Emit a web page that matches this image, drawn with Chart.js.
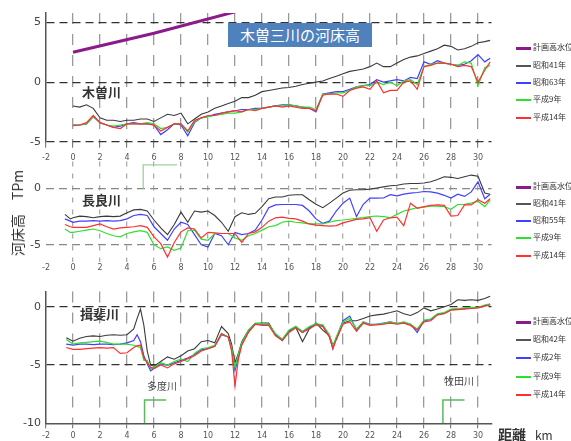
<!DOCTYPE html>
<html><head><meta charset="utf-8">
<script src="https://cdn.jsdelivr.net/npm/chart.js@4.4.0/dist/chart.umd.min.js"></script>
<style>
body{margin:0;width:571px;height:441px;background:#fff;position:relative;overflow:hidden;font-family:"Noto Sans CJK JP","Noto Sans",sans-serif}
canvas{position:absolute;left:0}
.t{position:absolute;white-space:nowrap;line-height:1}
</style></head><body>
<canvas id="c1" width="571" height="170" style="top:0px"></canvas>
<canvas id="c2" width="571" height="130" style="top:150px"></canvas>
<canvas id="c3" width="571" height="161" style="top:280px"></canvas>
<div class="t" style="left:228px;top:23px;width:144px;height:24px;line-height:24px;background:#4f81bd;color:#fff;font-size:15px;text-align:center">木曽三川の河床高</div>
<div class="t" style="left:82px;top:85px;font-size:13px;font-weight:bold;color:#333">木曽川</div>
<div class="t" style="left:82px;top:193px;font-size:13px;font-weight:bold;color:#333">長良川</div>
<div class="t" style="left:80px;top:307px;font-size:13px;font-weight:bold;color:#333">揖斐川</div>
<div class="t" style="left:147px;top:381px;font-size:10px;color:#444">多度川</div>
<div class="t" style="left:444px;top:376px;font-size:10px;color:#444">牧田川</div>
<div class="t" style="left:17px;top:213px;transform:translate(-50%,-50%) rotate(-90deg);font-size:14px;color:#333">河床高　TPm</div>
<div class="t" style="left:498px;top:427px;font-size:14px;font-weight:bold;color:#333">距離</div>
<div class="t" style="left:535px;top:429px;font-size:12px;color:#333">km</div>
<div id="leg"></div>
<script>
// ---- data ----
const xTicks = [-2,0,2,4,6,8,10,12,14,16,18,20,22,24,26,28,30];
const kisoYTicks = [5,0,-5];
const nagaraYTicks = [0,-5];
const ibiYTicks = [0,-5,-10];

const kisoNames = ['計画高水位','昭和41年','昭和63年','平成9年','平成14年'];
const nagaraNames = ['計画高水位','昭和41年','昭和55年','平成9年','平成14年'];
const ibiNames = ['計画高水位','昭和42年','平成2年','平成9年','平成14年'];

// 木曽川
const kisoPlanKm = [0,6,12,16];
const kisoPlan = [2.5,4.1,5.9,7.0];
const kisoKm = [0,0.5,1,1.5,2,2.5,3,3.5,4,4.5,5,5.5,6,6.5,7,7.5,8,8.5,9,9.5,10,10.5,11,11.5,12,12.5,13,13.5,14,14.5,15,15.5,16,16.5,17,17.5,18,18.5,19,19.5,20,20.5,21,21.5,22,22.5,23,23.5,24,24.5,25,25.5,26,26.5,27,27.5,28,28.5,29,29.5,30,30.5,30.9];
const kisoS41 = [-2.0,-2.1,-1.9,-2.2,-3.0,-3.2,-3.2,-3.3,-3.2,-3.2,
 -3.1,-3.1,-3.3,-3.0,-2.7,-2.8,-2.6,-3.5,-3.1,-2.7,
 -2.5,-2.2,-2.0,-1.8,-1.6,-1.3,-1.3,-1.1,-0.8,-0.7,
 -0.6,-0.5,-0.45,-0.35,-0.2,-0.1,0.0,0.1,0.3,0.5,
 0.7,0.9,1.0,1.1,1.3,1.6,1.3,1.3,1.6,1.9,
 2.1,2.2,2.4,2.6,2.8,3.1,3.0,2.7,2.8,3.0,
 3.3,3.4,3.5];
const kisoS63 = [-3.6,-3.6,-3.5,-2.9,-3.4,-3.6,-3.8,-3.7,-3.5,-3.4,
 -3.5,-3.5,-3.6,-4.4,-4.0,-3.5,-3.6,-4.5,-3.4,-3.0,
 -2.9,-2.7,-2.6,-2.5,-2.4,-2.3,-2.3,-2.2,-2.2,-2.1,
 -2.0,-1.9,-1.9,-2.0,-2.1,-2.2,-2.5,-1.0,-0.9,-0.8,
 -0.8,-0.6,-0.4,-0.3,-0.2,0.2,0.0,0.1,0.2,0.1,
 0.4,0.3,1.7,1.5,1.8,1.6,1.5,1.4,1.5,1.8,
 2.3,1.7,2.0];
const kisoH9 = [-3.6,-3.6,-3.5,-2.9,-3.4,-3.6,-3.7,-3.6,-3.5,-3.5,
 -3.5,-3.4,-3.5,-3.9,-3.8,-3.5,-3.5,-4.2,-3.3,-3.0,
 -2.9,-2.8,-2.7,-2.6,-2.6,-2.5,-2.3,-2.3,-2.2,-2.1,
 -2.0,-2.0,-1.9,-2.0,-2.1,-2.1,-2.3,-1.0,-1.0,-0.9,
 -0.9,-0.7,-0.4,-0.3,-0.3,0.0,-0.2,0.0,-0.3,0.1,
 0.2,-0.2,1.3,1.5,1.6,1.6,1.5,1.4,1.7,1.6,
 -0.3,1.2,1.4];
const kisoH14 = [-3.65,-3.6,-3.4,-2.8,-3.4,-3.6,-3.8,-3.9,-3.5,-3.5,
 -3.5,-3.5,-3.6,-4.1,-3.8,-3.5,-3.5,-4.1,-3.2,-3.0,
 -2.8,-2.8,-2.6,-2.5,-2.4,-2.5,-2.3,-2.4,-2.2,-2.1,
 -2.0,-2.1,-2.0,-2.1,-2.2,-2.2,-2.4,-1.1,-1.0,-1.0,
 -1.2,-0.7,-0.5,-0.4,-0.6,0.1,-0.9,-0.7,-0.7,0.0,
 0.1,-0.6,1.3,1.4,1.6,1.6,1.5,1.3,1.4,1.3,
 0.0,1.0,1.7];

// 長良川
const nagaraKm = [-0.6,-0.2,0,0.5,1,1.5,2,2.5,3,3.5,4,4.5,5,5.5,6,6.5,7,7.5,8,8.5,9,9.5,10,10.5,11,11.5,12,12.5,13,13.5,14,14.5,15,15.5,16,16.5,17,17.5,18,18.5,19,19.5,20,20.5,21,21.5,22,22.5,23,23.5,24,24.5,25,25.5,26,26.5,27,27.5,28,28.5,29,29.5,30,30.5,30.9];
const nagaraS41 = [-2.3,-2.7,
 -2.6,-2.45,-2.5,-2.6,-2.5,-2.45,-2.5,-2.45,-2.15,-1.9,
 -1.85,-2.0,-2.8,-3.5,-4.1,-3.2,-2.1,-3.0,-2.0,-2.1,
 -2.0,-2.4,-3.0,-3.8,-2.5,-2.15,-2.3,-2.2,-1.6,-0.9,
 -0.75,-0.75,-0.6,-0.55,-0.55,-1.0,-1.4,-1.7,-1.3,-0.85,
 -0.4,-0.15,-0.1,-0.1,-0.05,0.05,0.15,0.25,0.3,0.4,
 0.45,0.45,0.5,0.6,0.8,1.05,1.0,0.9,1.05,1.2,
 1.1,-0.4,-0.5];
const nagaraS55 = [-2.7,-2.9,
 -3.0,-2.9,-2.9,-2.85,-2.9,-2.85,-2.9,-2.85,-2.7,-2.4,
 -2.3,-2.4,-3.4,-4.0,-4.6,-3.6,-3.0,-3.2,-4.1,-5.0,
 -5.2,-4.0,-4.2,-5.0,-3.9,-4.1,-4.0,-3.7,-2.8,-1.7,
 -1.45,-1.42,-1.42,-1.42,-1.5,-2.0,-2.7,-3.1,-2.9,-2.0,
 -1.3,-0.85,-2.5,-1.4,-0.85,-0.85,-0.84,-0.55,-0.65,-0.5,
 -0.4,-0.35,-0.26,-0.3,-0.4,-0.6,-0.85,-0.5,-0.7,-0.3,
 0.6,-0.9,-0.5];
const nagaraH9 = [-3.6,-3.9,
 -3.9,-3.8,-3.7,-3.6,-3.75,-4.0,-4.2,-4.3,-4.0,-3.85,
 -3.75,-3.9,-5.0,-5.35,-5.2,-5.5,-5.3,-3.75,-3.7,-4.5,
 -4.6,-4.0,-4.0,-4.0,-4.4,-4.6,-4.2,-4.0,-3.7,-3.4,
 -3.3,-3.0,-2.9,-3.0,-3.05,-3.15,-3.15,-3.15,-3.0,-2.85,
 -2.8,-2.73,-2.65,-2.59,-2.5,-2.44,-2.5,-2.59,-2.3,-2.0,
 -1.85,-1.71,-1.65,-1.57,-1.57,-1.6,-1.85,-1.42,-1.4,-1.3,
 -1.13,-1.6,-1.0];
const nagaraH14 = [-3.2,-3.4,
 -3.45,-3.45,-3.45,-3.3,-3.15,-3.4,-3.6,-3.5,-3.45,-3.4,
 -3.3,-3.45,-4.3,-4.9,-6.1,-4.8,-3.85,-3.5,-3.6,-4.4,
 -3.9,-3.95,-4.0,-4.0,-4.0,-4.8,-4.0,-3.85,-3.45,-2.9,
 -2.6,-2.55,-2.65,-2.7,-2.9,-3.15,-3.25,-3.3,-3.35,-3.3,
 -3.05,-2.9,-2.75,-2.7,-2.6,-3.8,-2.8,-2.6,-2.55,-3.3,
 -1.3,-1.75,-1.6,-1.5,-1.45,-1.5,-2.45,-2.4,-1.45,-1.45,
 -1.0,-1.3,-0.9];
const nagaraTribKm = [5.2,5.2,7.7];
const nagaraTrib = [0,2.1,2.1];

// 揖斐川
const ibiKm = [-0.5,0,0.5,1,1.5,2,2.5,3,3.5,4,4.5,4.75,5,5.25,5.5,5.75,6,6.5,7,7.5,8,8.5,9,9.5,10,10.5,11,11.5,11.75,12,12.25,12.5,13,13.5,14,14.5,15,15.5,16,16.5,17,17.5,18,18.5,19,19.25,19.5,20,20.5,21,21.5,22,22.5,23,23.5,24,24.5,25,25.5,26,26.5,27,27.5,28,28.5,29,29.5,30,30.5,30.9];
const ibiS42 = [-2.67,-2.95,-2.7,-2.55,-2.5,-2.55,-2.45,-2.4,-2.45,-2.4,
 -1.9,-1.0,-0.2,-1.6,-3.8,-5.0,-5.1,-4.7,-4.3,-4.5,
 -4.2,-3.8,-3.6,-3.0,-2.9,-3.1,-1.7,-2.3,-3.2,-4.8,
 -4.0,-3.0,-2.0,-1.45,-1.4,-1.4,-2.4,-2.8,-2.1,-1.75,
 -3.0,-1.9,-1.4,-2.0,-2.5,-3.3,-2.8,-1.4,-1.2,-1.2,
 -1.0,-0.8,-0.7,-0.63,-0.5,-0.35,-0.6,-0.75,-0.5,-0.1,
 -0.35,-0.2,0.0,0.2,0.6,0.55,0.6,0.55,0.7,0.9];
const ibiH2 = [-3.2,-3.3,-3.2,-3.2,-3.25,-3.2,-3.2,-3.25,-3.2,-3.1,
 -2.9,-2.4,-3.0,-4.2,-4.9,-5.5,-5.3,-4.9,-5.0,-4.8,
 -4.6,-4.4,-4.1,-3.7,-3.6,-3.4,-2.4,-2.6,-3.6,-5.5,
 -4.3,-3.2,-2.1,-1.5,-1.5,-1.5,-2.4,-2.9,-2.1,-1.7,
 -2.2,-1.8,-1.5,-1.6,-2.6,-3.6,-2.7,-1.2,-0.8,-2.0,
 -1.3,-1.5,-1.5,-1.4,-1.3,-1.45,-1.35,-1.5,-2.2,-1.2,
 -1.1,-0.65,-0.55,-0.25,-0.2,-0.15,-0.1,-0.08,0.1,0.2];
const ibiH9 = [-2.8,-3.2,-3.1,-3.05,-3.0,-2.95,-3.05,-3.2,-3.2,-3.2,
 -3.3,-3.4,-3.5,-4.6,-4.6,-5.3,-5.2,-4.8,-5.0,-4.7,
 -4.5,-4.7,-4.0,-3.6,-3.5,-3.3,-2.3,-2.6,-3.5,-5.2,
 -4.1,-3.1,-2.0,-1.4,-1.45,-1.5,-2.3,-2.8,-2.0,-1.7,
 -2.1,-1.7,-1.45,-1.55,-2.4,-3.4,-2.6,-1.3,-1.0,-1.9,
 -1.3,-1.55,-1.5,-1.45,-1.3,-1.45,-1.3,-1.5,-1.9,-1.15,
 -1.05,-0.6,-0.5,-0.2,-0.15,-0.1,-0.05,-0.05,0.15,0.25];
const ibiH14 = [-3.5,-3.65,-3.65,-3.6,-3.55,-3.5,-3.55,-3.5,-4.0,-3.95,
 -3.5,-3.35,-3.3,-4.4,-4.8,-5.2,-5.3,-5.0,-5.25,-4.9,
 -4.7,-4.45,-4.2,-3.8,-3.6,-3.4,-2.3,-2.6,-3.8,-6.8,
 -4.5,-3.3,-2.2,-1.5,-1.6,-1.6,-2.5,-2.9,-2.2,-1.8,
 -2.2,-1.9,-1.55,-1.7,-2.6,-3.6,-2.8,-1.5,-1.3,-2.1,
 -1.4,-1.6,-1.55,-1.5,-1.4,-1.5,-1.4,-1.6,-2.0,-1.3,
 -1.2,-0.7,-0.6,-0.3,-0.25,-0.2,-0.15,-0.1,0.05,0.15];
const ibiTrib1Km = [5.3,5.3,6.9];
const ibiTrib2Km = [27.4,27.4,29.0];
const ibiTrib = [-10,-8,-8];

// ---- styles ----
const COL = {plan:'#8b1a8b', k:'#3a3a3a', b:'#4040ff', g:'#2ee02e', r:'#ff3030', trib:'#5cb85c'};
const pts = (xs, ys) => xs.map((x,i)=>({x:x, y:ys[i]}));
const ds = (xs, ys, color, w, order) => ({data: pts(xs,ys), borderColor: color, borderWidth: w, pointRadius: 0, tension: 0, fill: false, order: order});

function makeChart(id, datasets, o) {
  return new Chart(document.getElementById(id), {
    type: 'line',
    data: {datasets: datasets},
    options: {
      responsive: false, animation: false, events: [],
      layout: {padding: {top: o.padTop, right: 79.5, left: 0, bottom: 0}},
      plugins: {legend: {display: false}, tooltip: {enabled: false}},
      scales: {
        x: {
          type: 'linear', min: -2, max: 31,
          afterBuildTicks: s => { s.ticks = xTicks.map(v => ({value: v})); },
          afterFit: s => { s.height = o.xHeight; },
          grid: {color: c => (c.tick && c.tick.value === -2) ? 'rgba(0,0,0,0)' : o.vColor,
                 lineWidth: 1.3, drawTicks: o.xTickLen > 0, tickLength: o.xTickLen,
                 tickColor: '#666', tickWidth: 1},
          border: {display: o.xBorder, color: '#555', width: 1.5, dash: o.vDash},
          ticks: {font: {size: 8, family: 'DejaVu Sans'}, color: '#555', padding: o.xPad, maxRotation: 0, autoSkip: false}
        },
        y: {
          type: 'linear', min: o.yMin, max: o.yMax,
          afterBuildTicks: s => { s.ticks = o.yTicks.map(v => ({value: v})); },
          afterFit: s => { s.width = 46; },
          grid: {color: c => (c.tick && c.tick.value === o.yMin && o.xBorder) ? 'rgba(0,0,0,0)' : o.hColor,
                 lineWidth: 1.2, drawTicks: false},
          border: {display: o.yBorder, color: '#555', width: 1.5, dash: [8,5]},
          ticks: {font: {size: 11, family: 'DejaVu Sans'}, color: '#444', padding: 5}
        }
      }
    }
  });
}

makeChart('c1', [
  ds(kisoPlanKm, kisoPlan, COL.plan, 3, 0),
  ds(kisoKm, kisoH14, COL.r, 1.2, 1),
  ds(kisoKm, kisoH9, COL.g, 1.2, 2),
  ds(kisoKm, kisoS63, COL.b, 1.2, 3),
  ds(kisoKm, kisoS41, COL.k, 1.1, 4)
], {padTop: 13, xHeight: 28.3, xTickLen: 6, xPad: 5, yMin: -5, yMax: 5.8, yTicks: kisoYTicks,
    xBorder: false, yBorder: true, vColor: '#9a9a9a', vDash: [11,10], hColor: '#333'});

makeChart('c2', [
  ds(nagaraTribKm, nagaraTrib, '#9fd09f', 1.3, 0),
  ds(nagaraKm, nagaraH14, COL.r, 1.2, 1),
  ds(nagaraKm, nagaraH9, COL.g, 1.2, 2),
  ds(nagaraKm, nagaraS55, COL.b, 1.2, 3),
  ds(nagaraKm, nagaraS41, COL.k, 1.1, 4)
], {padTop: 9.5, xHeight: 18.4, xTickLen: 0, xPad: 2, yMin: -6.5, yMax: 2.4, yTicks: nagaraYTicks,
    xBorder: false, yBorder: false, vColor: '#aaaaaa', vDash: [5,7], hColor: '#888'});

makeChart('c3', [
  ds(ibiTrib1Km, ibiTrib, COL.trib, 1.5, 0),
  ds(ibiTrib2Km, ibiTrib, COL.trib, 1.5, 0),
  ds(ibiKm, ibiH14, COL.r, 1.2, 1),
  ds(ibiKm, ibiH9, COL.g, 1.2, 2),
  ds(ibiKm, ibiH2, COL.b, 1.2, 3),
  ds(ibiKm, ibiS42, COL.k, 1.1, 4)
], {padTop: 4.8, xHeight: 17.7, xTickLen: 5, xPad: 3, yMin: -10, yMax: 1.3, yTicks: ibiYTicks,
    xBorder: true, yBorder: true, vColor: '#9a9a9a', vDash: [11,10], hColor: '#333'});

// ---- legends (HTML text) ----
const legCols = [COL.plan, '#555', COL.b, COL.g, COL.r];
const legBlocks = [[kisoNames, [48,66,83,100,118]], [nagaraNames, [187,204,221,238,256]], [ibiNames, [322,340,358,377,395]]];
const leg = document.getElementById('leg');
legBlocks.forEach(([names, ys]) => {
  names.forEach((n, i) => {
    const h = i === 0 ? 3 : 1.2;
    const line = document.createElement('div');
    line.style.cssText = `position:absolute;left:516px;width:15px;top:${ys[i]-h/2}px;height:${h}px;background:${legCols[i]}`;
    leg.appendChild(line);
    const t = document.createElement('div');
    t.className = 't';
    t.style.cssText += `left:533px;top:${ys[i]-5}px;font-size:8px;color:#333`;
    t.textContent = n;
    leg.appendChild(t);
  });
});
</script>
</body></html>
